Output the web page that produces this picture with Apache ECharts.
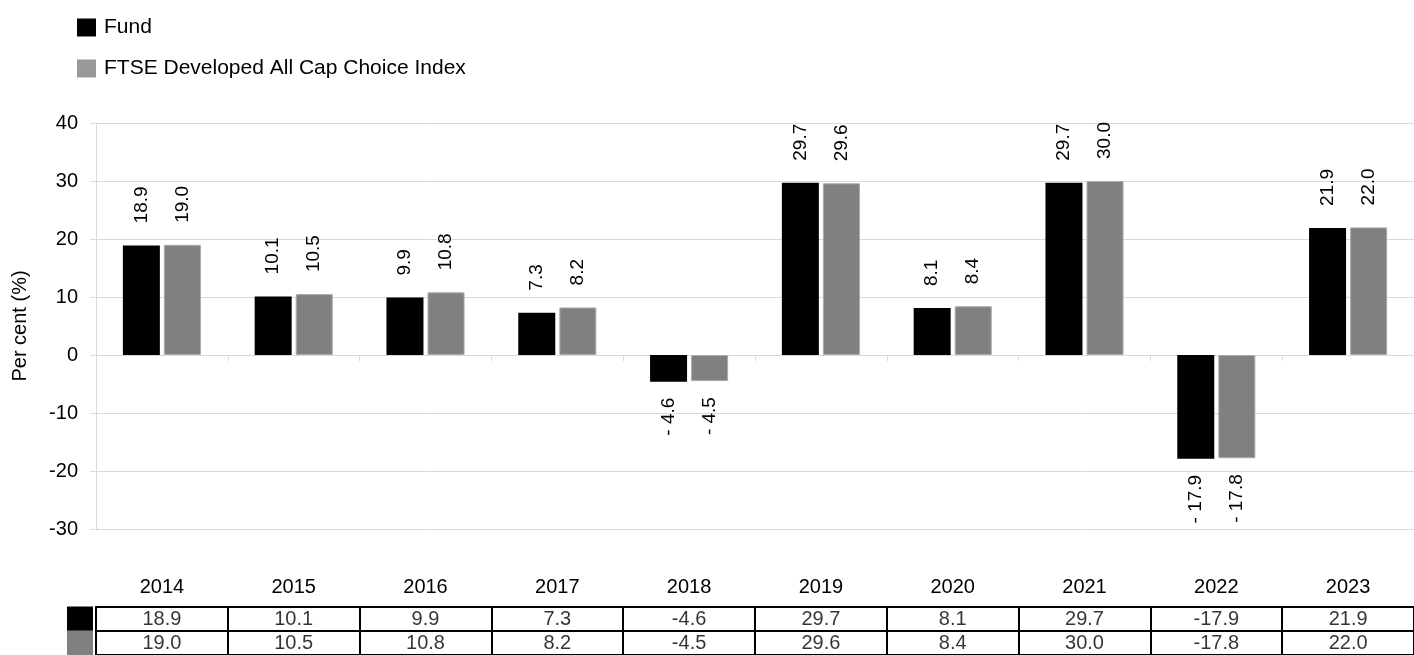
<!DOCTYPE html>
<html>
<head>
<meta charset="utf-8">
<script src="https://cdn.jsdelivr.net/npm/echarts@6/dist/echarts.min.js"></script>
<style>
html,body{margin:0;padding:0;background:#fff;}
#c{width:1414px;height:655px;}
</style>
</head>
<body>
<div id="c"></div>
<script>
const years = ['2014','2015','2016','2017','2018','2019','2020','2021','2022','2023'];
const fundValues = [18.9, 10.1, 9.9, 7.3, -4.6, 29.7, 8.1, 29.7, -17.9, 21.9];
const indexValues = [19.0, 10.5, 10.8, 8.2, -4.5, 29.6, 8.4, 30.0, -17.8, 22.0];
const seriesNames = ['Fund', 'FTSE Developed All Cap Choice Index'];
const yTicks = { min: -30, max: 40, interval: 10 };

const FONT = '"Liberation Sans", Arial, sans-serif';
const FS = 20;
const LFS = 19;

function barLabelFmt(p) {
  const v = p.value;
  return v < 0 ? '- ' + Math.abs(v).toFixed(1) : v.toFixed(1);
}
function makeBarData(vals) {
  return vals.map(v => ({
    value: v,
    label: v < 0
      ? { position: 'bottom', align: 'right', distance: 16 }
      : { position: 'top', align: 'left', distance: 22 }
  }));
}
const tableData = [];
fundValues.forEach((v, i) => tableData.push([i, 0, v]));
indexValues.forEach((v, i) => tableData.push([i, 1, v]));

const chart = echarts.init(document.getElementById('c'), null, { renderer: 'canvas' });
chart.setOption({
  animation: false,
  textStyle: { fontFamily: FONT },
  legend: {
    orient: 'vertical',
    left: 72, top: 12,
    itemWidth: 19, itemHeight: 18, itemGap: 20,
    icon: 'rect',
    textStyle: { fontSize: 21, color: '#000', fontFamily: FONT, padding: [0, 0, 0, 3] },
    data: [
      { name: seriesNames[0], itemStyle: { color: '#000', borderWidth: 0 } },
      { name: seriesNames[1], itemStyle: { color: '#999', borderWidth: 0 } }
    ]
  },
  grid: [
    { left: 96, top: 123, width: 1330, height: 406 },
    { left: 96, top: 607, width: 1330, height: 52 }
  ],
  xAxis: [
    {
      gridIndex: 0, type: 'category', data: years,
      axisLine: { onZero: true, lineStyle: { color: '#d9d9d9', width: 1 } },
      axisTick: { show: true, length: 6, lineStyle: { color: '#d9d9d9' } },
      axisLabel: { show: false },
      splitLine: { show: false }
    },
    {
      gridIndex: 1, type: 'category', data: years, position: 'top',
      axisLine: { show: true, lineStyle: { color: '#000', width: 2 } },
      axisTick: { show: false },
      axisLabel: { show: true, interval: 0, fontSize: FS, color: '#000', margin: 10, fontFamily: FONT },
      splitLine: { show: true, interval: 0, lineStyle: { color: '#000', width: 2 } }
    }
  ],
  yAxis: [
    {
      gridIndex: 0, type: 'value', min: yTicks.min, max: yTicks.max, interval: yTicks.interval,
      name: 'Per cent (%)', nameLocation: 'middle', nameGap: 66,
      nameTextStyle: { fontSize: FS, color: '#000', fontFamily: FONT },
      axisLine: { show: true, lineStyle: { color: '#d9d9d9' } },
      axisTick: { show: true, length: 6, lineStyle: { color: '#d9d9d9' } },
      axisLabel: { fontSize: FS, color: '#000', margin: 18, fontFamily: FONT },
      splitLine: { show: true, lineStyle: { color: '#d9d9d9', width: 1 } }
    },
    {
      gridIndex: 1, type: 'category', data: ['f', 'i'], inverse: true,
      axisLine: { show: true, lineStyle: { color: '#000', width: 2 } },
      axisTick: { show: false },
      axisLabel: {
        margin: 3, interval: 0, hideOverlap: false,
        formatter: v => '{' + v + '|}',
        rich: {
          f: { width: 26, height: 25, backgroundColor: '#000' },
          i: { width: 26, height: 25, backgroundColor: '#808080' }
        }
      },
      splitLine: { show: true, interval: 0, lineStyle: { color: '#000', width: 2 } }
    }
  ],
  series: [
    {
      name: seriesNames[0], type: 'bar', xAxisIndex: 0, yAxisIndex: 0,
      data: makeBarData(fundValues),
      barWidth: 37, barGap: '11%',
      itemStyle: { color: '#000' },
      label: { show: true, rotate: 90, verticalAlign: 'middle', fontSize: LFS, color: '#000', fontFamily: FONT, formatter: barLabelFmt }
    },
    {
      name: seriesNames[1], type: 'bar', xAxisIndex: 0, yAxisIndex: 0,
      data: makeBarData(indexValues),
      barWidth: 37, barGap: '11%',
      itemStyle: { color: '#808080', borderColor: '#aaaaaa', borderWidth: 1 },
      label: { show: true, rotate: 90, verticalAlign: 'middle', fontSize: LFS, color: '#000', fontFamily: FONT, formatter: barLabelFmt }
    },
    {
      name: 'table', type: 'scatter', xAxisIndex: 1, yAxisIndex: 1,
      data: tableData, symbolSize: 0, silent: true,
      label: {
        show: true, position: 'inside', fontSize: FS, color: '#000', fontFamily: FONT,
        formatter: p => p.value[2].toFixed(1)
      }
    }
  ]
});
</script>
</body>
</html>
